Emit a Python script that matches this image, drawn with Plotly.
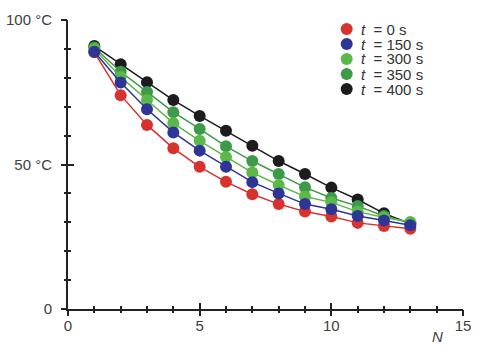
import plotly.graph_objects as go

N = list(range(1, 14))
series_labels = ["0", "150", "300", "350", "400"]
t0 = [88.8, 74.0, 63.7, 55.6, 49.2, 44.0, 39.7, 36.3, 33.7, 32.0, 29.8, 28.7, 27.8]
t150 = [89.0, 78.4, 69.1, 61.1, 54.8, 49.2, 43.9, 40.0, 36.3, 34.5, 32.2, 30.6, 29.0]
t300 = [90.0, 80.3, 72.3, 64.3, 58.2, 52.6, 47.2, 42.9, 38.9, 36.9, 33.7, 31.7, 30.1]
t350 = [90.5, 82.1, 75.1, 68.1, 62.3, 56.3, 51.2, 46.7, 42.1, 38.4, 35.6, 32.2, 29.8]
t400 = [91.0, 84.7, 78.5, 72.3, 66.8, 61.7, 56.5, 51.2, 46.7, 42.0, 37.9, 33.1, 29.5]
colors = ["#d8322e", "#2e3596", "#5db84a", "#3d9a48", "#1c1c1c"]
values = [t0, t150, t300, t350, t400]

x_ticks = [0, 5, 10, 15]
y_ticks = [0, 50, 100]
y_ticktext = ["0", "50 °C", "100 °C"]

FONT = "Liberation Sans, Arial, sans-serif"
TXT = "#404040"
AX = "#222222"

fig = go.Figure()
draw_order = [0, 4, 3, 2, 1]
for i in draw_order:
    fig.add_trace(go.Scatter(
        x=N, y=values[i], mode="lines+markers",
        line=dict(color=colors[i], width=1.5),
        marker=dict(color=colors[i], size=12, line=dict(width=0)),
        showlegend=False, hoverinfo="skip"))
# invisible trace on the twin subplot that carries the outer halves of the ticks
fig.add_trace(go.Scatter(x=[1], y=[50], xaxis="x2", yaxis="y2", mode="markers",
                         marker=dict(opacity=0, size=1), showlegend=False, hoverinfo="skip"))

W, H = 480, 352
L, R, T, B = 68, 17, 20, 43
pw, ph = W - L - R, H - T - B

def xax(ticks, **kw):
    return dict(range=[0, 15], showgrid=False, zeroline=False, tickcolor=AX, automargin=False,
                tickwidth=2, ticklen=6, tickmode="array", tickvals=x_ticks, ticks=ticks,
                domain=[0, 1],
                minor=dict(dtick=1, ticklen=3, tickwidth=1.5, tickcolor=AX, showgrid=False, ticks=ticks),
                **kw)

def yax(ticks, **kw):
    return dict(range=[0, 100], showgrid=False, zeroline=False, tickcolor=AX, automargin=False,
                tickwidth=2, ticklen=6, tickmode="array", tickvals=y_ticks, ticks=ticks,
                domain=[0, 1],
                minor=dict(dtick=10, ticklen=3, tickwidth=1.5, tickcolor=AX, showgrid=False, ticks=ticks),
                **kw)

fig.update_layout(
    width=W, height=H, margin=dict(l=L, r=R, t=T, b=B, autoexpand=False),
    paper_bgcolor="white", plot_bgcolor="rgba(0,0,0,0)",
    font=dict(family=FONT, size=15, color=TXT),
    xaxis=xax("inside", showline=True, linecolor=AX, linewidth=2,
              ticktext=[str(v) for v in x_ticks], tickfont=dict(size=15, color=TXT),
              ticklabelstandoff=2),
    yaxis=yax("inside", showline=True, linecolor=AX, linewidth=2,
              ticktext=y_ticktext, tickfont=dict(size=15, color=TXT), ticklabelstandoff=11),
    xaxis2=xax("outside", anchor="y2", showline=False, showticklabels=False),
    yaxis2=yax("outside", anchor="x2", showline=False, showticklabels=False),
)

# axis title N
fig.add_annotation(text="<i>N</i>", x=14.05, y=-27 / ph, xref="x", yref="paper",
                   showarrow=False, font=dict(size=15, color=TXT), xanchor="center", yanchor="middle")

# manual legend
lx_px, ly0_px, dy_px = 346.7, 29, 15
for i, lab in enumerate(series_labels):
    py = ly0_px + dy_px * i
    xp = (lx_px - L) / pw
    yp = (H - B - py) / ph
    fig.add_shape(type="circle", xref="paper", yref="paper", xsizemode="pixel", ysizemode="pixel",
                  xanchor=xp, yanchor=yp, x0=-6, x1=6, y0=-6, y1=6,
                  fillcolor=colors[i], line=dict(width=0))
    fig.add_annotation(text=f"<i>t</i>  = {lab} s", x=(359 - L) / pw, y=yp, xref="paper", yref="paper",
                       showarrow=False, xanchor="left", yanchor="middle",
                       font=dict(size=15, color="#333333"))

fig.write_html("out.html")
